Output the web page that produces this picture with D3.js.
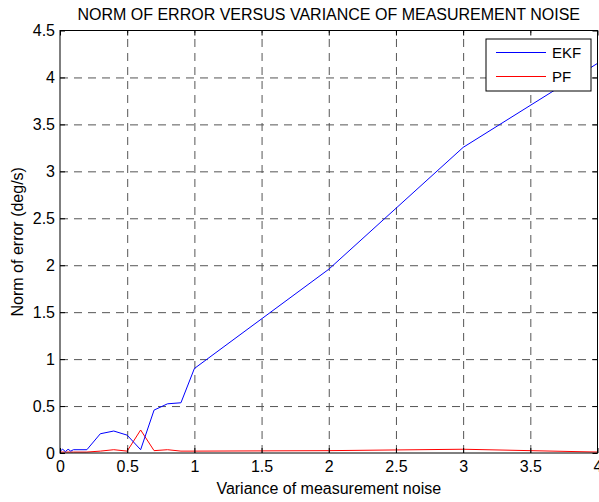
<!DOCTYPE html>
<html>
<head>
<meta charset="utf-8">
<script src="https://cdn.jsdelivr.net/npm/d3@7"></script>
<style>
  body { margin: 0; background: #fff; }
  text { font-family: "Liberation Sans", Arial, sans-serif; }
</style>
</head>
<body>
<script>
const w = 599;
const h = 502;

// data
const variance = [0, 0.02, 0.04, 0.06, 0.08, 0.1, 0.2, 0.3, 0.4, 0.5, 0.6, 0.7, 0.8, 0.9, 1, 2, 3, 4];
const ekf = [0.02, 0.04, 0.015, 0.04, 0.02, 0.035, 0.035, 0.205, 0.234, 0.19, 0.035, 0.457, 0.524, 0.535, 0.9, 1.957, 3.255, 4.15];
const pf = [0.01, 0.01, 0.01, 0.01, 0.01, 0.01, 0.01, 0.02, 0.035, 0.02, 0.245, 0.025, 0.035, 0.02, 0.02, 0.025, 0.04, 0.01];
const xTicks = [0, 0.5, 1, 1.5, 2, 2.5, 3, 3.5, 4];
const yTicks = [0, 0.5, 1, 1.5, 2, 2.5, 3, 3.5, 4, 4.5];
const seriesNames = ["EKF", "PF"];
const seriesColors = ["#0000ff", "#ff0000"];

const pLeft = 60, pRight = 597.5, pTop = 30.5, pBottom = 453;
const fs = "16px";

const svg = d3.select("body").append("svg")
  .attr("width", w)
  .attr("height", h);

const x = d3.scaleLinear().domain([0, 4]).range([pLeft, pRight]);
const y = d3.scaleLinear().domain([0, 4.5]).range([pBottom, pTop]);

// grid
svg.append("g")
  .attr("transform", "translate(0," + pBottom + ")")
  .call(d3.axisBottom(x).tickValues(xTicks.slice(1, -1)).tickSize(-(pBottom - pTop)).tickFormat(""))
  .call(g => g.select(".domain").remove())
  .selectAll("line")
  .attr("stroke", "#555")
  .attr("stroke-dasharray", "8,6");

svg.append("g")
  .attr("transform", "translate(" + pLeft + ",0)")
  .call(d3.axisLeft(y).tickValues(yTicks.slice(1, -1)).tickSize(-(pRight - pLeft)).tickFormat(""))
  .call(g => g.select(".domain").remove())
  .selectAll("line")
  .attr("stroke", "#555")
  .attr("stroke-dasharray", "8,6");

// lines
const line = d3.line()
  .x((d, i) => x(variance[i]))
  .y(d => y(d));

svg.append("path")
  .datum(pf)
  .attr("d", line)
  .attr("fill", "none")
  .attr("stroke", seriesColors[1])
  .attr("stroke-width", 1);

svg.append("path")
  .datum(ekf)
  .attr("d", line)
  .attr("fill", "none")
  .attr("stroke", seriesColors[0])
  .attr("stroke-width", 1);

// axes with inward ticks
const styleAxis = g => {
  g.select(".domain").remove();
  g.selectAll("line").attr("stroke", "#000");
  g.selectAll("text").attr("font-size", fs).attr("fill", "#000");
};

svg.append("g")
  .attr("transform", "translate(0," + pBottom + ")")
  .call(d3.axisBottom(x).tickValues(xTicks).tickSize(-5).tickPadding(8).tickFormat(d => d))
  .call(styleAxis);

svg.append("g")
  .attr("transform", "translate(0," + pTop + ")")
  .call(d3.axisTop(x).tickValues(xTicks).tickSize(-5).tickFormat(""))
  .call(styleAxis);

svg.append("g")
  .attr("transform", "translate(" + pLeft + ",0)")
  .call(d3.axisLeft(y).tickValues(yTicks).tickSize(-5).tickPadding(5).tickFormat(d => d))
  .call(styleAxis);

svg.append("g")
  .attr("transform", "translate(" + pRight + ",0)")
  .call(d3.axisRight(y).tickValues(yTicks).tickSize(-5).tickFormat(""))
  .call(styleAxis);

// frame
svg.append("rect")
  .attr("x", pLeft)
  .attr("y", pTop)
  .attr("width", pRight - pLeft)
  .attr("height", pBottom - pTop)
  .attr("fill", "none")
  .attr("stroke", "#000")
  .attr("stroke-width", 1);

// titles
svg.append("text")
  .attr("x", (pLeft + pRight) / 2)
  .attr("y", 20)
  .attr("text-anchor", "middle")
  .attr("font-size", fs)
  .text("NORM OF ERROR VERSUS VARIANCE OF MEASUREMENT NOISE");

svg.append("text")
  .attr("x", (pLeft + pRight) / 2)
  .attr("y", 494)
  .attr("text-anchor", "middle")
  .attr("font-size", fs)
  .text("Variance of measurement noise");

svg.append("text")
  .attr("transform", "translate(23," + (pTop + pBottom) / 2 + ") rotate(-90)")
  .attr("text-anchor", "middle")
  .attr("font-size", fs)
  .text("Norm of error (deg/s)");

// legend
const legend = svg.append("g").attr("transform", "translate(486,39)");
legend.append("rect")
  .attr("width", 105)
  .attr("height", 52)
  .attr("fill", "#fff")
  .attr("stroke", "#000");

seriesNames.forEach((name, i) => {
  const ly = 13.5 + i * 24;
  legend.append("line")
    .attr("x1", 10).attr("x2", 60)
    .attr("y1", ly).attr("y2", ly)
    .attr("stroke", seriesColors[i]);
  legend.append("text")
    .attr("x", 66)
    .attr("y", ly + 5.5)
    .attr("font-size", "15px")
    .text(name);
});
</script>
</body>
</html>
